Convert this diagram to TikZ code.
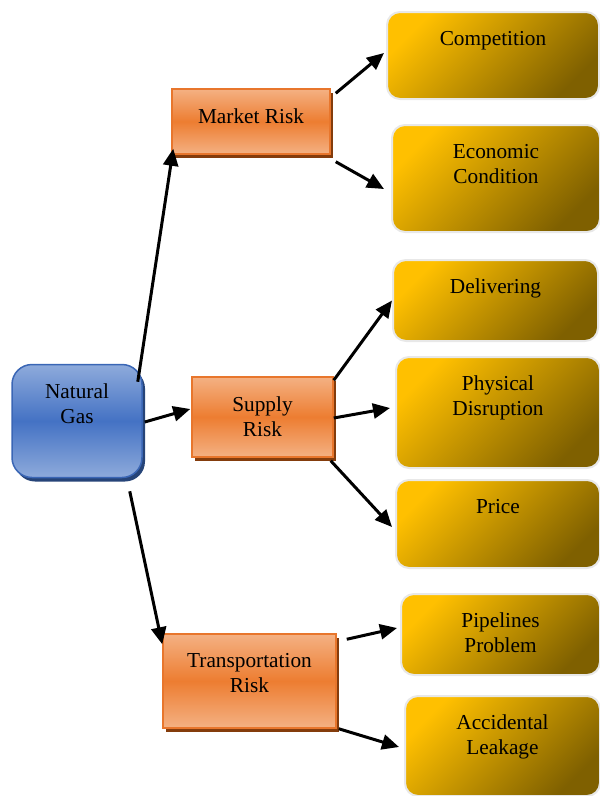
\documentclass[tikz,border=0pt]{standalone}
\usepackage{fontspec}
\setmainfont{Liberation Serif}
\usetikzlibrary{calc,shadows,arrows.meta}
\definecolor{bluetop}{HTML}{8EAADB}
\definecolor{bluemid}{HTML}{4472C4}
\definecolor{blueedge}{HTML}{3A66B5}
\definecolor{blueshadow}{HTML}{264478}
\definecolor{orlight}{HTML}{F4B183}
\definecolor{ormid}{HTML}{ED7D31}
\definecolor{oredge}{HTML}{E8762C}
\definecolor{orshadow}{HTML}{843C0C}
\definecolor{goldA}{HTML}{FFC000}
\definecolor{goldB}{HTML}{7F6000}
\definecolor{goldedge}{HTML}{E8E8E8}
\tikzset{
  lbl/.style={anchor=north,inner sep=0pt,yshift=-20pt,align=center,
    font=\fontsize{21.3}{25}\selectfont,text=black},
  rootbox/.style={draw=blueedge,line width=1.5pt,rounded corners=20pt,
    top color=bluetop,bottom color=bluetop,middle color=bluemid,
    drop shadow={shadow xshift=3pt,shadow yshift=-4pt,fill=blueshadow,opacity=1},
    inner sep=0pt},
  riskbox/.style={draw=oredge,line width=1.5pt,
    top color=orlight,bottom color=orlight,middle color=ormid,
    drop shadow={shadow xshift=3pt,shadow yshift=-3.5pt,fill=orshadow,opacity=1},
    inner sep=0pt},
  leafbox/.style={draw=goldedge,line width=2pt,rounded corners=13pt,
    top color=goldA,bottom color=goldB,shading angle=45,inner sep=0pt},
  conn/.style={line width=3pt,-{Triangle[length=17pt,width=15pt]}},
}
\begin{document}
\begin{tikzpicture}[x=1pt,y=-1pt]
\useasboundingbox (0,0) rectangle (600,796);
% root
\node[rootbox,minimum width=130pt,minimum height=113pt,label={[lbl]north:Natural\\Gas}] (ng) at (77,421) {};
% risks
\node[riskbox,minimum width=158pt,minimum height=65pt,label={[lbl]north:Market Risk}] (mr) at (251,121.5) {};
\node[riskbox,minimum width=141pt,minimum height=80pt,label={[lbl]north:Supply\\Risk}] (sr) at (262.5,417) {};
\node[riskbox,minimum width=173pt,minimum height=94pt,label={[lbl]north:Transportation\\Risk}] (tr) at (249.5,681) {};
% leaves
\node[leafbox,minimum width=212pt,minimum height=87pt,label={[lbl]north:Competition}] (comp) at (493,55.5) {};
\node[leafbox,minimum width=208pt,minimum height=107pt,label={[lbl]north:Economic\\Condition}] (econ) at (496,178.5) {};
\node[leafbox,minimum width=205pt,minimum height=81pt,label={[lbl]north:Delivering}] (deliv) at (495.5,300.5) {};
\node[leafbox,minimum width=204pt,minimum height=111pt,label={[lbl]north:Physical\\Disruption}] (phys) at (498,412.5) {};
\node[leafbox,minimum width=204pt,minimum height=88pt,label={[lbl]north:Price}] (price) at (498,524) {};
\node[leafbox,minimum width=199pt,minimum height=81pt,label={[lbl]north:Pipelines\\Problem}] (pipe) at (500.5,634.5) {};
\node[leafbox,minimum width=195pt,minimum height=100pt,label={[lbl]north:Accidental\\Leakage}] (acc) at (502.5,746) {};
% connectors
\draw[conn] ($(ng.north east)+(-5,18)$) -- ($(mr.south west)+(2,-6)$);
\draw[conn] ($(ng.east)+(2,1)$) -- ($(sr.west)+(-1,-8)$);
\draw[conn] ($(ng.south east)+(-13,13)$) -- ($(tr.north west)+(0,11)$);
\draw[conn] ($(mr.north east)+(5,5)$) -- ($(comp.west)+(-2,-2.5)$);
\draw[conn] ($(mr.south east)+(5,7)$) -- ($(econ.west)+(-7,10.5)$);
\draw[conn] ($(sr.north east)+(0,4)$) -- ($(deliv.west)+(0,0)$);
\draw[conn] ($(sr.east)+(0,1)$) -- ($(phys.west)+(-5,-4.5)$);
\draw[conn] ($(sr.south east)+(-3,3)$) -- ($(price.west)+(-3,3)$);
\draw[conn] ($(tr.north east)+(10,6)$) -- ($(pipe.west)+(-3,-6.5)$);
\draw[conn] ($(tr.south east)+(2,0)$) -- ($(acc.west)+(-5,1)$);
\end{tikzpicture}
\end{document}
